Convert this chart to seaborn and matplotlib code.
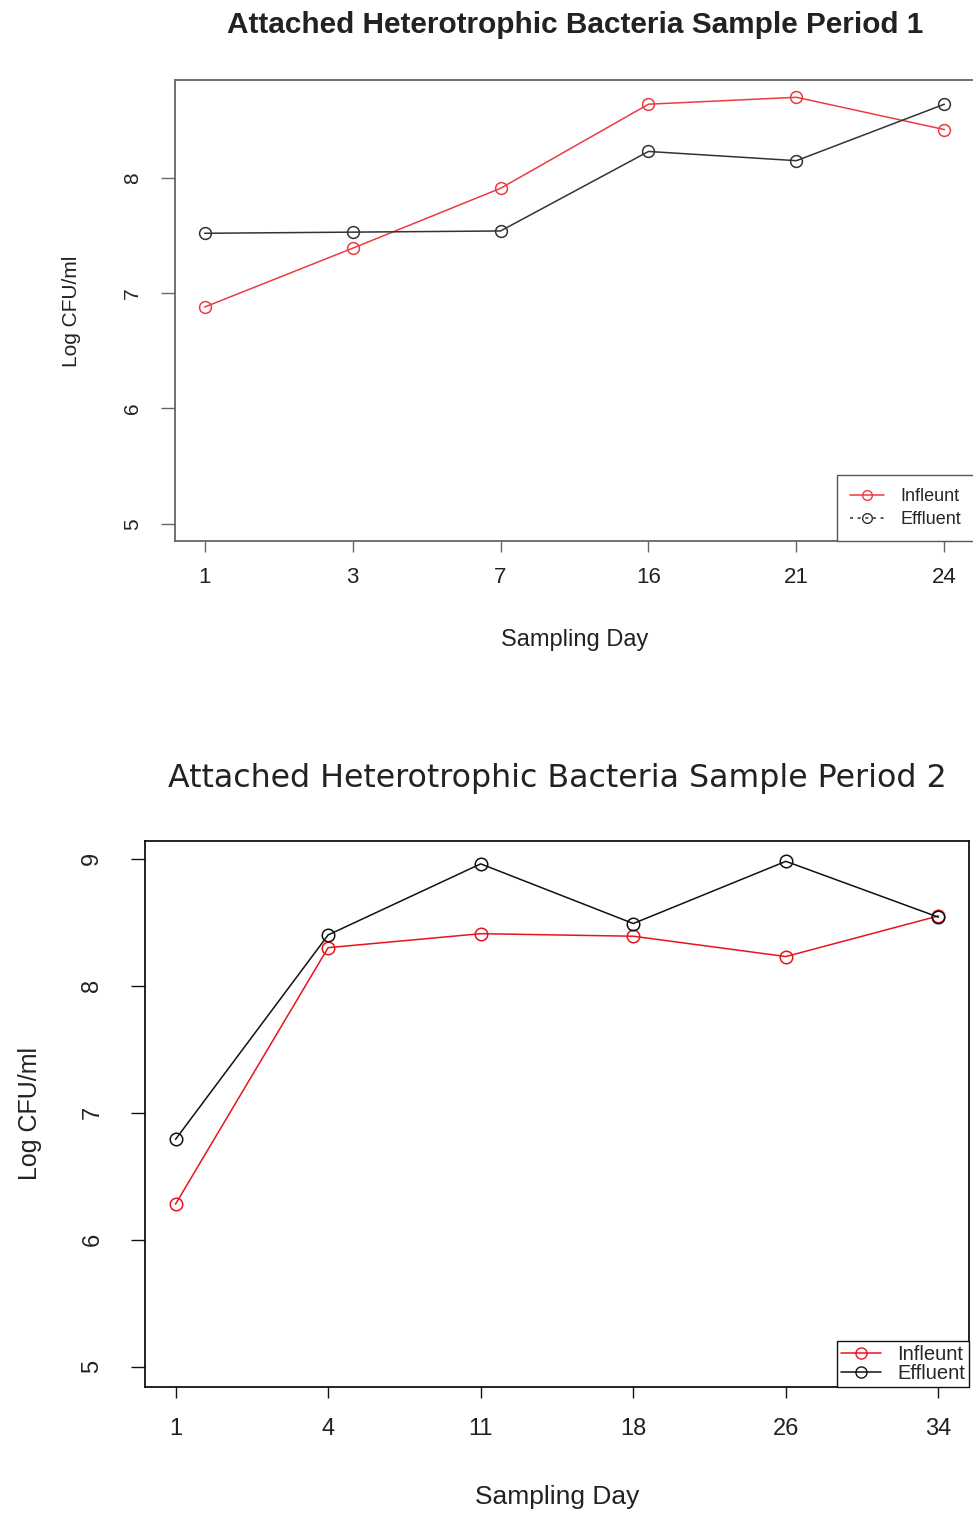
import numpy as np
import pandas as pd
import matplotlib
matplotlib.use("Agg")
import matplotlib.pyplot as plt
from matplotlib.lines import Line2D
import seaborn as sns

# ---- data ----
top_days = ["1", "3", "7", "16", "21", "24"]
top_infleunt = [6.88, 7.39, 7.91, 8.64, 8.70, 8.42]
top_effluent = [7.52, 7.53, 7.54, 8.23, 8.15, 8.64]

bot_days = ["1", "4", "11", "18", "26", "34"]
bot_infleunt = [6.28, 8.30, 8.41, 8.39, 8.23, 8.55]
bot_effluent = [6.79, 8.40, 8.96, 8.49, 8.98, 8.54]

series_names = ["Infleunt", "Effluent"]
y_ticks = [5, 6, 7, 8, 9]

sns.set_style("white")
plt.rcParams["font.family"] = ["Liberation Sans", "DejaVu Sans"]

fig = plt.figure(figsize=(9.73, 15.16), dpi=100)
W, H = 973, 1516


def axes_px(left, top, right, bottom):
    return fig.add_axes([left / W, 1 - bottom / H, (right - left) / W, (bottom - top) / H])


def long_df(days, infl, effl):
    pos = np.arange(len(days))
    return pd.DataFrame({
        "pos": np.concatenate([pos, pos]),
        "value": infl + effl,
        "series": [series_names[0]] * len(days) + [series_names[1]] * len(days),
    })


def draw(ax, days, infl, effl, palette, frame_color, ylim, yticks, xtick_fs, ytick_fs,
         xpad, ypad, ms):
    df = long_df(days, infl, effl)
    sns.lineplot(data=df, x="pos", y="value", hue="series", hue_order=series_names,
                 palette=palette, marker="o", ax=ax, legend=False, linewidth=1.1,
                 markersize=ms)
    for ln in ax.lines:
        c = ln.get_color()
        ln.set_markerfacecolor("none")
        ln.set_markeredgecolor(c)
        ln.set_markeredgewidth(1.1)
    ax.set_xlim(-0.2, len(days) - 1 + 0.2)
    ax.set_ylim(*ylim)
    ax.set_xticks(np.arange(len(days)))
    ax.set_xticklabels(days)
    ax.set_yticks([t for t in yticks if ylim[0] <= t <= ylim[1]])
    ax.set_yticklabels([str(t) for t in yticks if ylim[0] <= t <= ylim[1]],
                       rotation=90, va="center")
    ax.tick_params(axis="x", direction="out", length=8, width=1, colors=frame_color,
                   labelcolor="#222222", labelsize=xtick_fs, pad=xpad, bottom=True)
    ax.tick_params(axis="y", direction="out", length=10, width=1, colors=frame_color,
                   labelcolor="#222222", labelsize=ytick_fs, pad=ypad, left=True)
    for s in ax.spines.values():
        s.set_color(frame_color)
        s.set_linewidth(1.3)
        s.set_visible(True)
    ax.set_facecolor("white")


# ---- top panel ----
ax1 = axes_px(175, 80, 974, 541)
draw(ax1, top_days, top_infleunt, top_effluent,
     {"Infleunt": "#ee3b3f", "Effluent": "#333333"}, "#666666",
     (4.85, 8.85), y_ticks, 16, 15, 11, 14, 8.5)
ax1.set_xlabel("Sampling Day", fontsize=17, color="#222222", va="center")
ax1.xaxis.set_label_coords(0.5, (541 - 640) / 461)
ax1.set_ylabel("Log CFU/ml", fontsize=15, color="#222222", va="center")
ax1.yaxis.set_label_coords((72 - 175) / 799, (541 - 311) / 461)
h1 = [Line2D([], [], color="#ee3b3f", marker="o", mfc="none", lw=1.1, ms=7),
      Line2D([], [], color="#333333", marker="o", mfc="none", lw=1.1, ms=7, ls=(0, (2, 3)))]
leg1 = ax1.legend(h1, series_names, loc="lower right", bbox_to_anchor=(1.0, 0.0),
                  borderaxespad=0, fontsize=13, fancybox=False, framealpha=1,
                  edgecolor="#555555", handlelength=1.9, labelspacing=0.35,
                  borderpad=0.7, handletextpad=0.9)
leg1.get_frame().set_linewidth(1.0)
fig.text(575 / W, 1 - 25 / H, "Attached Heterotrophic Bacteria Sample Period 1",
         ha="center", va="center", fontsize=21.4, fontweight="bold", color="#222222")

# ---- bottom panel ----
ax2 = axes_px(145, 841, 969, 1387)
draw(ax2, bot_days, bot_infleunt, bot_effluent,
     {"Infleunt": "#e8141c", "Effluent": "#111111"}, "#111111",
     (4.84, 9.14), y_ticks, 17, 17, 14, 20, 9)
ax2.set_xlabel("Sampling Day", fontsize=19, color="#222222", va="center")
ax2.xaxis.set_label_coords(0.5, (1387 - 1497) / 546)
ax2.set_ylabel("Log CFU/ml", fontsize=18, color="#222222", va="center")
ax2.yaxis.set_label_coords((30 - 145) / 824, (1387 - 1114) / 546)
h2 = [Line2D([], [], color="#e8141c", marker="o", mfc="none", lw=1.1, ms=8),
      Line2D([], [], color="#111111", marker="o", mfc="none", lw=1.1, ms=8)]
leg2 = ax2.legend(h2, series_names, loc="lower right", bbox_to_anchor=(1.0, 0.0),
                  borderaxespad=0, fontsize=14.5, fancybox=False, framealpha=1,
                  edgecolor="#111111", handlelength=2.0, labelspacing=0.0,
                  borderpad=0.2, handletextpad=0.8)
leg2.get_frame().set_linewidth(1.0)
fig.text(557 / W, 1 - 778 / H, "Attached Heterotrophic Bacteria Sample Period 2",
         ha="center", va="center", fontsize=22.8, color="#222222",
         family=["DejaVu Sans"])

fig.savefig("out.png", dpi=100, facecolor="white")
